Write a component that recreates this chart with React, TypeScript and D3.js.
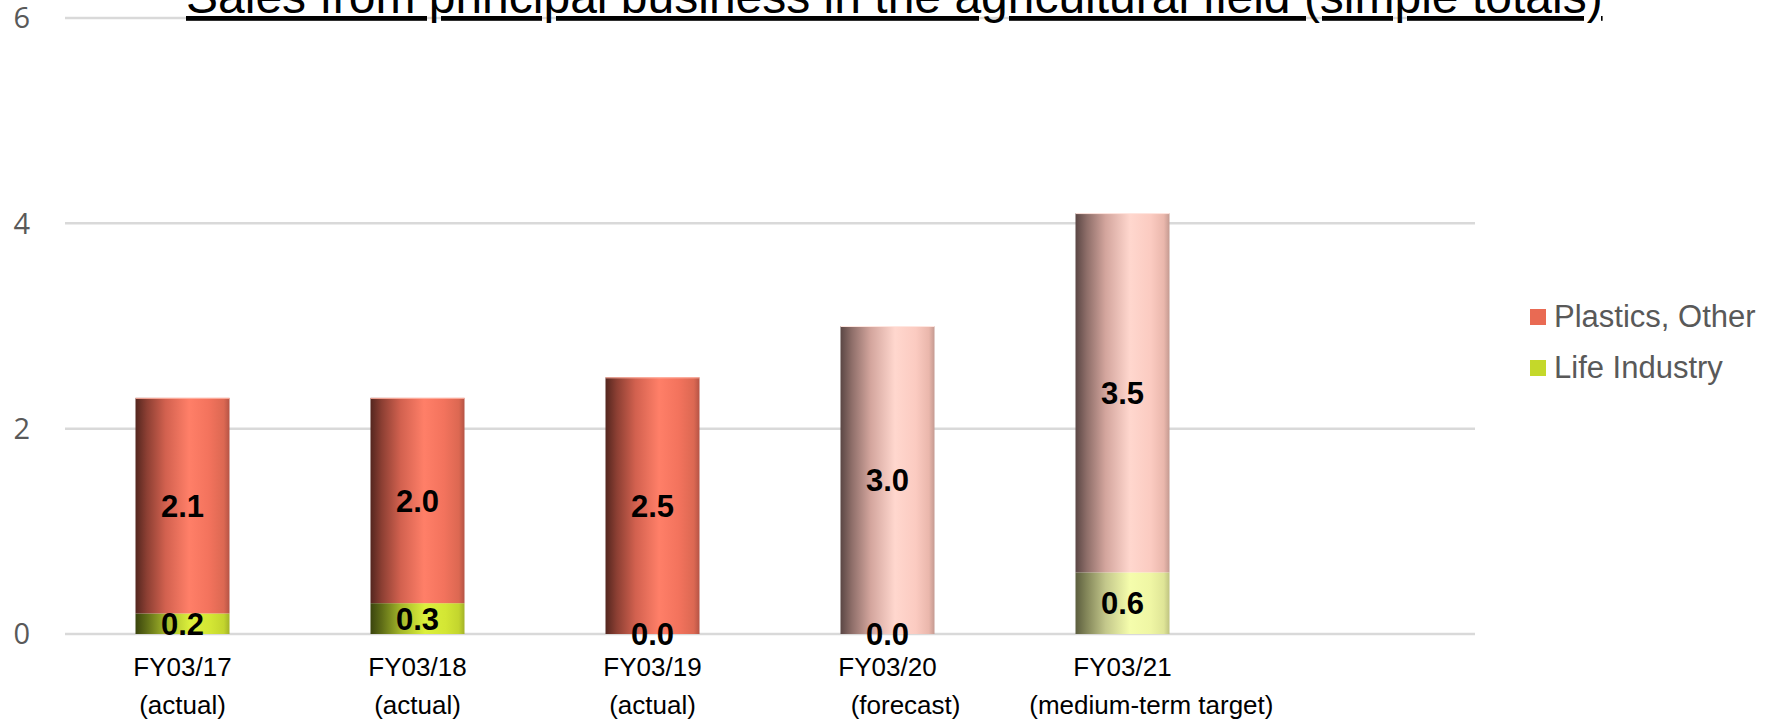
import React from 'react';
import * as d3 from 'd3';

// chart data
const categories = ['FY03/17', 'FY03/18', 'FY03/19', 'FY03/20', 'FY03/21'];
const subLabels = ['(actual)', '(actual)', '(actual)', '     (forecast)', '        (medium-term target)'];
const status = ['actual', 'actual', 'actual', 'forecast', 'target'];
const lifeIndustry = [0.2, 0.3, 0.0, 0.0, 0.6];
const plasticsOther = [2.1, 2.0, 2.5, 3.0, 3.5];
const yTicks = [0, 2, 4, 6];
const title = 'Sales from principal business in the agricultural field (simple totals)';

const W = 1775;
const H = 721;
const plot = { left: 65, right: 1475, top: 18, bottom: 634 };

const font = '"Liberation Sans", Arial, sans-serif';

// keep leading spaces (they shift the second label line like in the source slide)
const keepSpaces = (s: string) => s.replace(/ /g, '\u00a0');

const App: React.FC = () => {
  // one empty slot after the last year, as in the original chart area
  const x = d3.scaleBand<string>()
    .domain([...categories, ''])
    .range([plot.left, plot.right])
    .paddingInner(0.6)
    .paddingOuter(0.3);

  const y = d3.scaleLinear().domain([0, 6]).range([plot.bottom, plot.top]);

  const stack = categories.map((c, i) => ({
    cat: c,
    status: status[i],
    life: [0, lifeIndustry[i]],
    plastics: [lifeIndustry[i], lifeIndustry[i] + plasticsOther[i]],
  }));

  const bw = x.bandwidth();

  const grad = (id: string, stops: [number, string][]) => (
    <linearGradient id={id} x1="0" x2="1" y1="0" y2="0">
      {stops.map(([o, c]) => <stop key={o} offset={`${o}%`} stopColor={c} />)}
    </linearGradient>
  );

  return (
    <svg width={W} height={H} style={{ position: 'absolute', left: 0, top: 0, background: '#fff' }}>
      <defs>
        {grad('plActual', [[0, '#54261f'], [12, '#8c3f33'], [32, '#d2614f'], [57, '#ff7f68'], [78, '#f3735d'], [94, '#dc6852'], [100, '#b55445']])}
        {grad('plPlan', [[0, '#5a4644'], [12, '#8e6e69'], [32, '#d3a59d'], [58, '#ffd7ce'], [80, '#fbcbc1'], [94, '#eab7ac'], [100, '#c49a91']])}
        {grad('lfActual', [[0, '#3a440d'], [12, '#5f6d17'], [32, '#a3b62a'], [58, '#dcf03c'], [80, '#d3e634'], [94, '#c3d52e'], [100, '#a3b228']])}
        {grad('lfPlan', [[0, '#5b5d3e'], [12, '#84875a'], [32, '#c3c78b'], [58, '#f5fdac'], [80, '#eff6a4'], [94, '#dfe597'], [100, '#bfc381']])}
      </defs>

      {/* gridlines + y ticks */}
      {yTicks.map(t => (
        <g key={t}>
          <line x1={plot.left} x2={plot.right} y1={y(t)} y2={y(t)} stroke="#d9d9d9" strokeWidth={2.5} />
          <text x={30} y={y(t)} dy="0.36em" textAnchor="end" fontFamily='"Open Sans", sans-serif' fontSize={29} fill="#595959">
            {t}
          </text>
        </g>
      ))}

      {/* title (top is clipped by the slide, as in the source) */}
      <text x={186} y={13} fontFamily={font} fontSize={48} fill="#000" textDecoration="underline">
        {title}
      </text>

      {/* bars */}
      {stack.map(d => {
        const bx = x(d.cat)!;
        const planned = d.status !== 'actual';
        return (
          <g key={d.cat}>
            <rect x={bx} width={bw} y={y(d.life[1])} height={y(d.life[0]) - y(d.life[1])}
              fill={planned ? 'url(#lfPlan)' : 'url(#lfActual)'} />
            <rect x={bx} width={bw} y={y(d.plastics[1])} height={y(d.plastics[0]) - y(d.plastics[1])}
              fill={planned ? 'url(#plPlan)' : 'url(#plActual)'} />
            <line x1={bx} x2={bx + bw} y1={y(d.plastics[1]) + 0.5} y2={y(d.plastics[1]) + 0.5}
              stroke={planned ? '#ffe6e0' : '#ffb3a4'} strokeWidth={1} />
          </g>
        );
      })}

      {/* data labels */}
      {stack.map((d, i) => {
        const cx = x(d.cat)! + bw / 2;
        return (
          <g key={d.cat} fontFamily={font} fontWeight="bold" fontSize={31} fill="#000" textAnchor="middle">
            <text x={cx} y={y((d.life[0] + d.life[1]) / 2)} dy="0.36em">{lifeIndustry[i].toFixed(1)}</text>
            <text x={cx} y={y((d.plastics[0] + d.plastics[1]) / 2)} dy="0.36em">{plasticsOther[i].toFixed(1)}</text>
          </g>
        );
      })}

      {/* category labels */}
      {categories.map((c, i) => {
        const cx = x(c)! + bw / 2;
        return (
          <g key={c} fontFamily={font} fontSize={26} fill="#000" textAnchor="middle">
            <text x={cx} y={676}>{c}</text>
            <text x={cx} y={714} xmlSpace="preserve">{keepSpaces(subLabels[i])}</text>
          </g>
        );
      })}

      {/* legend */}
      <g fontFamily={font} fontSize={31} fill="#595959">
        <rect x={1530} y={309} width={16} height={16} fill="#e96a53" />
        <text x={1554} y={327}>Plastics, Other</text>
        <rect x={1530} y={360} width={16} height={16} fill="#c4d82a" />
        <text x={1554} y={378}>Life Industry</text>
      </g>
    </svg>
  );
};

export default App;
